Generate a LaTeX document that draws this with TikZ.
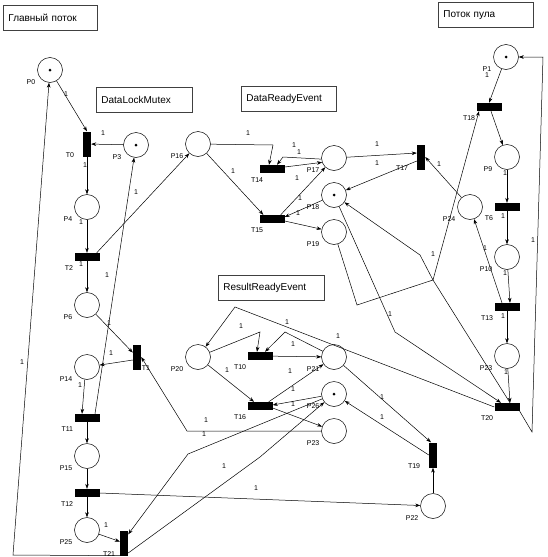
\documentclass[tikz,border=0pt]{standalone}
\usepackage{fontspec}
\setmainfont{Liberation Sans}
\usepackage{tikz}
\usetikzlibrary{arrows.meta, positioning, calc}

\begin{document}
\begin{tikzpicture}[
  x=1pt, y=-1pt,
  >={Stealth[length=5pt, width=3.6pt]},
  place/.style={draw, circle, line width=0.5pt, minimum size=25pt, inner sep=0pt},
  vtrans/.style={fill=black, minimum width=8pt, minimum height=25pt, inner sep=0pt},
  htrans/.style={fill=black, minimum width=25pt, minimum height=8pt, inner sep=0pt},
  pname/.style={font=\fontsize{7}{8}\selectfont, inner sep=0.5pt, xshift=-5pt, yshift=0pt},
  hname/.style={font=\fontsize{7}{8}\selectfont, inner sep=0.5pt, xshift=-9pt, yshift=-4pt},
  vname/.style={font=\fontsize{7}{8}\selectfont, inner sep=0.5pt, xshift=-8pt, yshift=-4pt},
  one/.style={font=\fontsize{7}{8}\selectfont, inner sep=0pt},
  arc/.style={->, line width=0.5pt},
  titlebox/.style={draw=black!75, line width=0.8pt, anchor=north west, inner xsep=5pt,
                   text width=#1, minimum height=25pt, font=\fontsize{10}{12}\selectfont,
                   align=left}
]
\useasboundingbox (0,0) rectangle (547,557);

% ---------- Rubriques ----------
\node[titlebox=84pt] (bMain) at (3,5) {Главный поток};
\node[titlebox=86pt] (bMutex) at (96,87) {DataLockMutex};
\node[titlebox=85pt] (bData) at (241,86) {DataReadyEvent};
\node[titlebox=85pt] (bPool) at (438,2) {Поток пула};
\node[titlebox=96pt] (bRes) at (218,275) {ResultReadyEvent};

% ---------- Places ----------
\node[place, label={[pname]below left:P0}] (p0) at (50,70) {};
\node[place, label={[pname]below left:P3}] (p3) at (136,145) {};
\node[place, label={[pname]below left:P16}] (p16) at (198,144) {};
\node[place, label={[pname]below left:P4}] (p4) at (87,207) {};
\node[place, label={[pname]below left:P6}] (p6) at (87,305) {};
\node[place, label={[pname]below left:P14}] (p14) at (87,367) {};
\node[place, label={[pname]below left:P15}] (p15) at (87,456) {};
\node[place, label={[pname]below left:P25}] (p25) at (87,530) {};
\node[place, label={[pname]below left:P1}] (p1) at (506,57) {};
\node[place, label={[pname]below left:P9}] (p9) at (507,157) {};
\node[place, label={[pname]below left:P24}] (p24) at (470,207) {};
\node[place, label={[pname]below left:P10}] (p10) at (507,257) {};
\node[place, label={[pname]below left:P23}] (p23r) at (507,356) {};
\node[place, label={[pname]below left:P17}] (p17) at (334,158) {};
\node[place, label={[pname]below left:P18}] (p18) at (334,195) {};
\node[place, label={[pname]below left:P19}] (p19) at (334,232) {};
\node[place, label={[pname]below left:P20}] (p20) at (198,357) {};
\node[place, label={[pname]below left:P21}] (p21) at (334,357) {};
\node[place, label={[pname]below left:P26}] (p26) at (334,394) {};
\node[place, label={[pname]below left:P23}] (p23) at (334,431) {};
\node[place, label={[pname]below left:P22}] (p22) at (433,506) {};
% jetons
\fill (p0) circle[radius=1.5pt];
\fill (p3) circle[radius=1.5pt];
\fill (p1) circle[radius=1.5pt];
\fill (p18) circle[radius=1.5pt];
\fill (p26) circle[radius=1.5pt];

% ---------- Transitions ----------
\node[vtrans, label={[vname]below left:T0}] (t0) at (87,144) {};
\node[htrans, label={[hname]below left:T2}] (t2) at (87,257) {};
\node[htrans, label={[hname]below left:T11}] (t11) at (87,418) {};
\node[htrans, label={[hname]below left:T12}] (t12) at (87,493) {};
\node[vtrans, label={[vname, xshift=4pt]below left:T21}] (t21) at (124,543) {};
\node[vtrans, label={[font=\fontsize{7}{8}\selectfont, inner sep=0.5pt, yshift=-4pt]below right:T1}] (t1) at (137,357) {};
\node[htrans, label={[hname, xshift=5pt]below left:T14}] (t14) at (272,169) {};
\node[htrans, label={[hname, xshift=5pt]below left:T15}] (t15) at (272,219) {};
\node[vtrans, label={[vname]below left:T17}] (t17) at (421,157) {};
\node[htrans, label={[hname]below left:T18}] (t18) at (489,107) {};
\node[htrans, label={[hname]below left:T6}] (t6) at (507,207) {};
\node[htrans, label={[hname]below left:T13}] (t13) at (507,307) {};
\node[htrans, label={[hname]below left:T20}] (t20) at (507,407) {};
\node[htrans, label={[hname]below left:T10}] (t10) at (260,356) {};
\node[htrans, label={[hname]below left:T16}] (t16) at (260,406) {};
\node[vtrans, label={[vname]below left:T19}] (t19) at (433,455) {};

% ---------- Points de coude ----------
\coordinate (kLoop) at (13,555);
\coordinate (kRelA) at (188,454);
\coordinate (kRelB) at (260,457);
\coordinate (kP16) at (273,145);
\coordinate (kP17) at (283,157);
\coordinate (kP19a) at (357,305);
\coordinate (kHub) at (433,280);
\coordinate (kP18) at (420,255);
\coordinate (kP18b) at (395,332);
\coordinate (kPoolA) at (532,432);
\coordinate (kPoolB) at (543,57);
\coordinate (kP20) at (235,307);
\coordinate (kT10a) at (260,332);
\coordinate (kT10b) at (285,332);
\coordinate (kP23) at (187,431);

% ---------- Arcs : thread principal ----------
\draw[arc] (p0) -- (t0.north);
\draw[arc] (p3) -- (t0);
\draw[arc] (t0) -- (p4);
\draw[arc] (p4) -- (t2);
\draw[arc] (t2) -- (p6);
\draw[arc] ([xshift=-3pt]t2.north east) -- (p16);
\draw[arc] (p6) -- (t1);
\draw[arc] ([yshift=-3pt]t1.west) -- (p14);
\draw[arc] (p14.-100) -- ([xshift=-5pt]t11.north);
\draw[arc] ([xshift=8pt]t11.north) -- (p3);
\draw[arc] (t11) -- (p15);
\draw[arc] (p15) -- (t12);
\draw[arc] (t12) -- (p25);
\draw[arc] (t12.east) -- (p22);
\draw[arc] (p25) -- (t21);
\draw[arc] (t21.south west) -- (kLoop) -- (p0);
\draw[arc] (p26) -- (kRelA) -- ([yshift=-4pt]t21.north east);
\draw[arc] ([yshift=-10pt]t21.east) -- (kRelB) -- (p26);
\draw[arc] (p23) -- (kP23) -- (t1.east);

% ---------- Arcs : DataReadyEvent ----------
\draw[arc] (p16) -- (kP16) -- ([xshift=-3pt]t14.north);
\draw[arc] (p16) -- ([xshift=4pt]t15.north west);
\draw[arc] (p17.185) -- (kP17) -- ([xshift=5pt]t14.north);
\draw[arc] ([yshift=2pt]t14.east) -- (p17.200);
\draw[arc] ([xshift=-4pt]t15.north east) -- (p17);
\draw[arc] (p18) -- ([yshift=2pt]t15.east);
\draw[arc] ([yshift=-2pt]t15.east) -- (p19);
\draw[arc] (p17) -- ([yshift=4pt]t17.west);
\draw[arc] ([yshift=-4pt]t17.west) -- (p18);
\draw[arc] (p24) -- (t17.east);

% ---------- Arcs : thread du pool ----------
\draw[arc] (p1) -- (t18.north);
\draw[arc] ([xshift=2pt]t18.south) -- (p9);
\draw[arc] (p9) -- (t6);
\draw[arc] (t6) -- (p10);
\draw[arc] (p10) -- ([xshift=3pt]t13.north);
\draw[arc] (t13) -- (p23r);
\draw[arc] (p23r) -- ([xshift=3pt]t20.north);
\draw[arc] ([xshift=-5pt]t13.north) -- (p24);
\draw[arc] (p19) -- (kP19a) -- (kHub) -- ([xshift=-10pt]t18.south);
\draw[arc] ([xshift=3pt]t20.north) -- (kHub) -- (kP18) -- (p18);
\draw[arc] (p18) -- (kP18b) -- ([xshift=-6pt]t20.north);
\draw[arc] (t20.south east) -- (kPoolA) -- (kPoolB) -- (p1);

% ---------- Arcs : ResultReadyEvent ----------
\draw[arc] (t20.west) -- (kP20) -- (p20);
\draw[arc] (p20) -- (kT10a) -- ([xshift=-3pt]t10.north);
\draw[arc] (p21) -- (kT10b) -- ([xshift=5pt]t10.north);
\draw[arc] (t10) -- (p21);
\draw[arc] (p20) -- ([xshift=-6pt]t16.north);
\draw[arc] ([xshift=-4pt]t16.north east) -- (p21);
\draw[arc] (p26) -- ([yshift=1pt]t16.east);
\draw[arc] ([yshift=-2pt]t16.east) -- (p23);
\draw[arc] (p21) -- ([xshift=-2pt]t19.north);
\draw[arc] (t19.west) -- (p26);
\draw[arc] (p22) -- (t19.south);

% ---------- Poids des arcs ----------
\node[one] (m1) at (66,94) {1};
\node[one] (m2) at (103,133) {1};
\node[one] (m3) at (85,165) {1};
\node[one] (m4) at (81,222) {1};
\node[one] (m5) at (81,264) {1};
\node[one] (m6) at (136,192) {1};
\node[one] (m7) at (109,323) {1};
\node[one] (m8) at (111,353) {1};
\node[one] (m9) at (80,385) {1};
\node[one] (m10) at (107,275) {1};
\node[one] (m11) at (22,362) {1};
\node[one] (m12) at (106,525) {1};
\node[one] (m13) at (256,488) {1};
\node[one] (m14) at (224,466) {1};
\node[one] (m15) at (206,420) {1};
\node[one] (m16) at (204,434) {1};
\node[one] (m17) at (248,133) {1};
\node[one] (m18) at (233,171) {1};
\node[one] (m19) at (294,145) {1};
\node[one] (m20) at (299,152) {1};
\node[one] (m21) at (297,178) {1};
\node[one] (m22) at (300,198) {1};
\node[one] (m23) at (298,213) {1};
\node[one] (m24) at (377,144) {1};
\node[one] (m25) at (377,163) {1};
\node[one] (m26) at (439,164) {1};
\node[one] (m27) at (433,254) {1};
\node[one] (m28) at (390,314) {1};
\node[one] (m29) at (487,75) {1};
\node[one] (m30) at (505,173) {1};
\node[one] (m31) at (503,216) {1};
\node[one] (m32) at (505,273) {1};
\node[one] (m33) at (503,316) {1};
\node[one] (m34) at (485,248) {1};
\node[one] (m35) at (506,372) {1};
\node[one] (m36) at (533,240) {1};
\node[one] (m37) at (241,326) {1};
\node[one] (m38) at (287,322) {1};
\node[one] (m39) at (293,344) {1};
\node[one] (m40) at (338,336) {1};
\node[one] (m41) at (227,370) {1};
\node[one] (m42) at (290,371) {1};
\node[one] (m43) at (293,389) {1};
\node[one] (m44) at (293,404) {1};
\node[one] (m45) at (382,397) {1};
\node[one] (m46) at (382,417) {1};

\end{tikzpicture}
\end{document}
